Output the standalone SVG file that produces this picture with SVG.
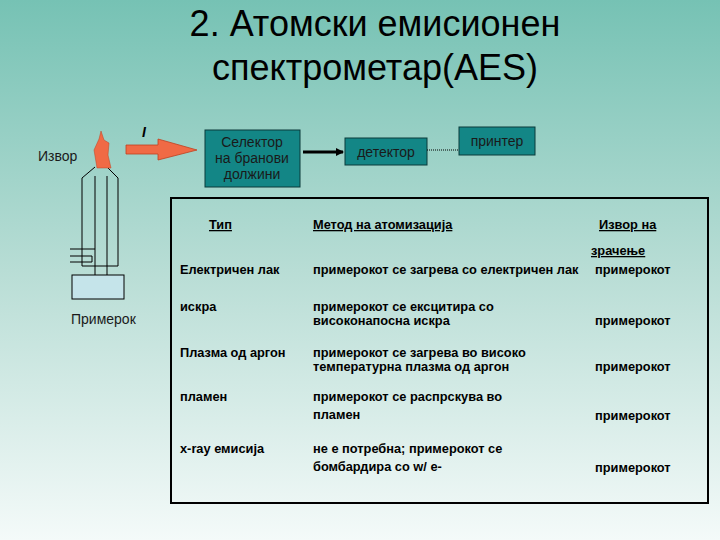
<svg xmlns="http://www.w3.org/2000/svg" width="720" height="540" viewBox="0 0 720 540">
<defs>
<linearGradient id="bg" x1="0" y1="0" x2="0" y2="1">
<stop offset="0" stop-color="#76c2b4"/><stop offset="0.5" stop-color="#b8ddd5"/><stop offset="1" stop-color="#f4faf9"/>
</linearGradient>
<marker id="ah" markerWidth="8" markerHeight="8" refX="7" refY="4" orient="auto" markerUnits="userSpaceOnUse"><path d="M0,0 L8,4 L0,8 z" fill="#000"/></marker>
<style>
text{font-family:"Liberation Sans",Arial,sans-serif;fill:#000}
.t{font-size:36px}
.n{font-size:14px;fill:#1a1a1a}
.b{font-size:12.8px;font-weight:bold}
.u{text-decoration:underline}
.box{fill:#138686;stroke:#0a3a3a;stroke-width:1}
.ln{stroke:#000;stroke-width:1;fill:none}
</style>
</defs>
<rect width="720" height="540" fill="url(#bg)"/>
<text class="t" x="375" y="36" text-anchor="middle">2. Атомски емисионен</text>
<text class="t" x="375" y="80" text-anchor="middle">спектрометар(AES)</text>

<g id="burner">
<path class="ln" d="M82,266 V178 L95,167 M118,266 V178 L107,167 M95,176 V278 M107,176 V278 M70,249 H95 M70,256 H92 V262 H70 M82,266 H118"/>
<rect x="72" y="275" width="52" height="24" fill="#c5e4ea" stroke="#000"/>
<path d="M97,168 L94,150 L99,139 L101,131 L104,140 L109,143 L108,155 L111,168 Z" fill="#f06a45" stroke="#c04020" stroke-width="0.5"/>
<text class="n" x="38" y="161">Извор</text>
<text class="n" x="71" y="324">Примерок</text>
</g>
<g id="beam">
<path d="M126,145 H158 V139 L197,150 L158,160 V154 H126 Z" fill="#f06a45" stroke="#c04020" stroke-width="0.8"/>
<text x="142" y="137" font-size="14" font-style="italic" font-weight="bold">I</text>
</g>
<g id="selector"><rect class="box" x="205" y="130" width="95" height="57"/>
<text class="n" text-anchor="middle" x="252" y="147">Селектор</text>
<text class="n" text-anchor="middle" x="252" y="163">на бранови</text>
<text class="n" text-anchor="middle" x="252" y="179">должини</text></g>
<g id="detector"><rect class="box" x="345" y="138" width="82" height="27"/>
<text class="n" text-anchor="middle" x="386" y="157">детектор</text></g>
<g id="printer"><rect class="box" x="459" y="127" width="76" height="28"/>
<text class="n" text-anchor="middle" x="497" y="146">принтер</text></g>
<g id="connectors">
<line x1="303" y1="152" x2="343" y2="152" stroke="#000" stroke-width="3" marker-end="url(#ah)"/>
<line x1="427" y1="150" x2="459" y2="150" stroke="#000" stroke-width="1" stroke-dasharray="1,1"/>
</g>
<g id="table">
<rect x="171" y="198" width="537" height="305" fill="none" stroke="#000" stroke-width="2"/>
<text class="b u" x="209" y="229">Тип</text>
<text class="b u" x="313" y="229">Метод на атомизација</text>
<text class="b u" x="599" y="229">Извор на</text>
<text class="b u" x="591" y="255">зрачење</text>
<text class="b" x="180" y="274">Електричен лак</text>
<text class="b" x="313" y="274">примерокот се загрева со електричен лак</text>
<text class="b" x="595" y="274">примерокот</text>
<text class="b" x="180" y="311">искра</text>
<text class="b" x="313" y="311">примерокот се ексцитира со</text>
<text class="b" x="313" y="325">високонапосна искра</text>
<text class="b" x="595" y="325">примерокот</text>
<text class="b" x="180" y="357">Плазма од аргон</text>
<text class="b" x="313" y="357">примерокот се загрева во високо</text>
<text class="b" x="313" y="371">температурна плазма од аргон</text>
<text class="b" x="595" y="371">примерокот</text>
<text class="b" x="180" y="401">пламен</text>
<text class="b" x="313" y="401">примерокот се распрскува во</text>
<text class="b" x="313" y="419">пламен</text>
<text class="b" x="595" y="420">примерокот</text>
<text class="b" x="180" y="453">x-ray емисија</text>
<text class="b" x="313" y="453">не е потребна; примерокот се</text>
<text class="b" x="313" y="471">бомбардира со w/ e-</text>
<text class="b" x="595" y="472">примерокот</text>
</g>
</svg>
